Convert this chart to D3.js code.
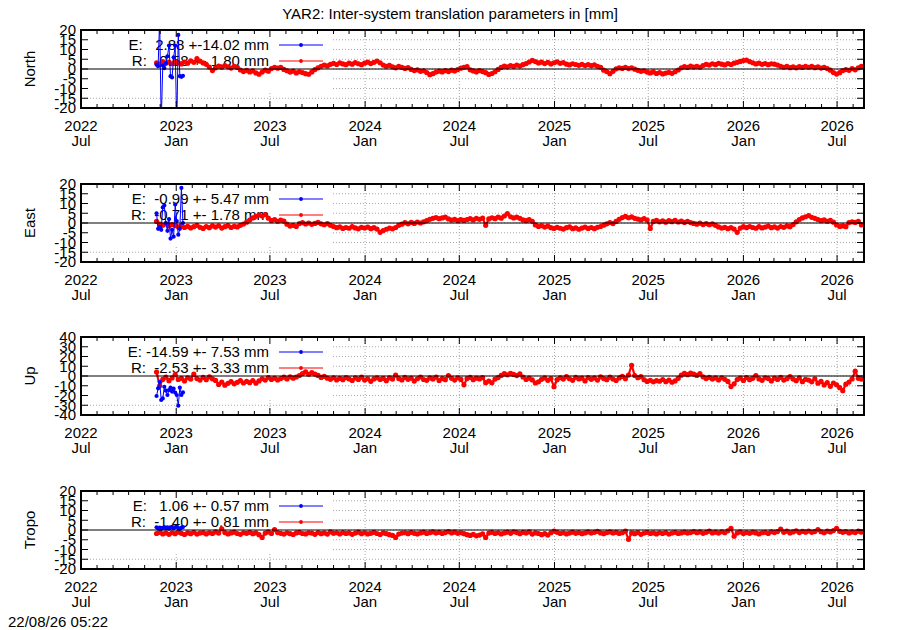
<!DOCTYPE html>
<html><head><meta charset="utf-8">
<script src="https://cdn.jsdelivr.net/npm/d3@7"></script>
<style>body{margin:0;background:#fff}svg{display:block;font-family:"Liberation Sans",Arial,Helvetica,sans-serif}</style>
</head><body><svg id="c" width="900" height="630"></svg>
<script>
// ---------- data ----------
const components = ["North", "East", "Up", "Tropo"];
const yLimits = [20, 20, 40, 20];
const yTickSteps = [5, 5, 10, 5];
const xTickYears = ["2022","2023","2023","2024","2024","2025","2025","2026","2026"];
const meanE = [2.88, -0.99, -14.59, 1.06];
const sdE   = [14.02, 5.47, 7.53, 0.57];
const meanR = [0.58, -0.71, -2.53, -1.40];
const sdR   = [1.80, 1.78, 3.33, 0.81];
const seriesStartR = "2022-11-24", stepDaysR = 6;   // R series sampled every 6 days
const seriesStartE = "2022-11-24", stepDaysE = 3;   // E series every 3 days

const redNorth = [
 3.2,2.5,3.8,2.9,3.5,2.7,3.9,3.1,2.6,3.6,
 3.0,4.2,3.4,5.3,4.0,3.1,2.4,1.0,-0.8,0.6,
 1.5,0.9,1.8,1.1,0.5,1.4,0.8,-0.5,-1.3,-0.7,
 -1.5,-1.0,-2.0,-2.7,-1.6,-0.6,-1.1,0.2,0.9,0.4,
 0.8,-0.2,-0.9,-1.6,-1.1,-2.0,-1.4,-1.8,-2.4,-2.7,
 -1.5,-0.3,0.6,1.4,2.0,1.6,2.4,2.9,2.3,3.1,
 2.6,2.2,3.0,2.5,3.3,2.7,2.2,3.0,3.5,2.8,
 3.4,4.1,3.2,2.0,1.4,1.9,1.1,0.6,1.3,0.8,
 0.3,0.7,-0.2,-0.8,-0.4,-1.2,-0.9,-1.8,-2.9,-2.4,
 -1.6,-1.1,-1.5,-0.8,-1.3,-0.6,-1.0,-0.3,0.4,0.9,
 1.2,-0.4,-1.0,-1.5,-0.8,-1.3,-1.9,-2.8,-2.3,-1.4,
 -0.2,0.8,1.5,1.1,1.8,1.3,2.0,1.5,2.2,2.8,
 3.6,4.4,3.8,3.1,3.5,2.8,3.4,2.6,3.2,3.7,
 2.9,3.3,2.5,2.1,2.7,2.3,1.9,2.4,1.8,2.2,
 1.7,2.1,1.4,0.9,-0.6,-1.3,-2.4,-1.2,0.1,0.6,
 0.3,0.8,0.2,0.6,-0.1,-0.7,-1.2,-0.9,-1.6,-2.0,
 -1.5,-2.3,-1.8,-2.5,-2.1,-1.7,-2.2,-1.4,-0.5,0.6,
 1.2,0.8,1.5,1.0,1.4,0.9,1.8,2.4,2.0,2.7,
 2.2,2.9,2.5,2.1,2.8,2.3,3.0,3.4,3.9,4.3,
 4.6,3.8,3.2,2.6,3.0,2.4,2.8,2.2,2.7,2.5,
 2.0,1.4,0.9,1.3,0.7,1.1,0.6,1.2,0.8,1.4,
 0.9,1.3,0.7,1.1,0.5,0.8,0.2,-0.6,-1.8,-2.6,
 -1.9,-0.8,-0.3,-0.7,0.2,-0.4,0.6,1.4];

const redEast = [
 0.8,-0.6,-1.2,-0.4,-1.5,-0.8,-1.3,-2.0,-1.4,-2.3,
 -1.7,-2.5,-1.9,-1.2,-2.2,-2.8,-1.8,-2.4,-1.5,-2.1,
 -1.4,-2.6,-1.9,-1.3,-2.3,-1.7,-2.0,-1.2,-0.5,0.4,
 1.5,2.6,3.4,4.1,3.6,4.3,2.5,1.2,1.8,0.9,
 1.5,1.0,-0.6,-1.6,-1.2,-1.8,-0.3,0.2,-0.5,0.0,
 -0.7,-0.2,0.3,-0.4,-0.9,-0.3,-1.2,-1.8,-2.4,-2.0,
 -2.8,-2.3,-2.7,-1.9,-2.5,-3.0,-2.2,-2.6,-2.1,-2.9,
 -2.4,-3.1,-4.8,-3.9,-3.2,-2.6,-3.0,-2.3,-1.2,-0.6,
 0.2,-0.4,0.3,-0.2,0.5,0.0,0.6,1.2,1.9,2.4,
 2.8,2.2,2.6,3.0,2.1,1.5,1.9,1.2,1.7,1.3,
 1.8,2.2,1.6,2.4,1.9,2.5,-1.2,2.1,2.7,2.2,
 3.0,2.5,3.6,4.8,3.2,2.6,3.0,2.4,1.6,1.2,
 1.7,0.9,-1.0,-1.8,-1.4,-2.1,-1.6,-2.4,-2.8,-2.2,
 -2.7,-3.1,-2.4,-2.0,-2.9,-2.5,-3.2,-2.6,-2.1,-2.8,
 -2.3,-2.9,-2.2,-1.8,-1.1,-0.4,0.2,-0.3,0.8,1.9,
 2.8,3.4,2.7,3.1,2.4,2.0,1.6,2.2,1.5,-2.8,
 0.8,1.3,0.6,1.1,0.4,1.2,0.7,1.4,0.5,1.0,
 0.3,0.9,0.2,-0.2,-0.6,-0.1,-0.8,-0.3,-0.9,-0.4,
 -1.2,-2.0,-2.6,-2.2,-2.9,-2.4,-3.1,-4.8,-2.6,-1.9,
 -2.4,-1.8,-2.3,-2.7,-1.9,-2.5,-2.1,-1.6,-2.4,-2.0,
 -2.6,-1.8,-2.2,-1.5,-1.9,-0.8,0.6,1.8,2.6,3.2,
 3.8,2.9,2.4,1.8,1.2,1.6,0.9,1.3,0.4,-1.0,
 -1.8,-1.5,-1.9,0.2,0.6,0.3,0.8,-1.0];

const redUp = [
 4.0,-10.0,-3.5,-1.2,-4.8,-2.0,1.5,-3.6,-2.4,-5.0,
 -1.8,-3.2,2.0,-2.6,-4.2,-1.5,-3.8,-0.8,-2.9,-4.5,
 -8.6,-6.2,-9.4,-7.5,-5.8,-8.0,-6.5,-4.8,-7.2,-5.5,
 -6.8,-4.6,-7.4,-5.0,-2.8,-4.2,-1.6,-3.5,-2.2,-4.0,
 -2.6,-1.2,-3.0,-0.8,-2.2,-1.0,0.5,2.5,4.2,1.8,
 3.5,2.0,0.6,-1.5,-0.4,-2.2,-3.4,-1.8,-4.0,-2.5,
 -3.8,-1.6,-3.0,-4.6,-2.0,-3.5,-1.2,-4.2,-2.8,-5.5,
 -3.0,-1.8,-3.6,-2.4,-4.8,-2.0,-3.2,0.8,-2.6,-4.0,
 -1.5,-3.4,-2.2,-5.2,-2.8,-1.0,-3.6,-4.4,-2.0,-3.2,
 -1.2,-4.6,-2.6,-3.8,0.5,-2.4,-4.2,-1.8,-3.5,-9.0,
 -2.6,-1.4,-3.8,-2.2,-3.0,-1.6,-6.8,-5.2,-7.0,-3.2,
 -1.6,0.6,2.4,1.2,2.8,1.6,0.4,2.2,-1.0,-3.6,
 -2.2,-4.0,-7.2,-6.0,-3.4,-2.0,-4.4,-2.6,-11.0,-3.8,
 -1.8,-3.2,-0.6,-2.8,-4.4,-1.4,-3.0,-2.2,-5.0,-1.6,
 -3.4,-2.0,-4.2,-0.8,-2.6,-3.8,-1.2,-3.2,-4.6,-2.0,
 -0.4,-2.8,1.0,11.0,0.5,-1.8,-0.6,-3.8,-5.6,-4.4,
 -6.0,-4.8,-5.4,-3.6,-5.8,-4.2,-6.4,-5.0,-2.4,0.8,
 2.6,1.4,3.0,2.0,0.6,2.4,-0.8,-2.6,-1.4,-3.2,
 -2.0,-4.0,-1.8,-3.4,-5.6,-10.8,-8.0,-3.6,-2.2,-4.6,
 -1.6,-3.8,-2.4,0.4,-3.0,-4.4,-1.8,-2.6,-5.0,-2.2,
 -3.6,-1.4,-4.2,-2.8,-0.6,-3.2,-4.8,-2.0,-5.8,-3.4,
 -4.2,-6.0,-2.8,-7.4,-5.6,-9.2,-6.8,-10.6,-7.2,-9.0,
 -12.0,-15.0,-8.4,-6.2,-3.0,5.0,-2.4,-3.2];

const redTropo = [
 -1.8,-1.2,-2.0,-1.5,-2.2,-1.4,-1.9,-1.1,-1.7,-2.3,
 -1.5,-1.9,-1.2,-2.1,-1.6,-1.3,-2.0,-1.4,-1.8,-1.0,
 -1.6,0.6,-1.3,-2.0,-1.5,-1.1,-1.8,-2.2,-1.4,-1.7,
 -1.2,-1.9,-1.5,-2.4,-3.8,-1.6,-1.0,-1.8,0.2,-1.3,
 -1.7,-2.1,-1.4,-1.9,-2.3,-1.5,-1.2,-1.8,-2.0,-1.4,
 -1.6,-2.2,-1.3,-1.9,-1.5,-2.1,-1.0,-1.7,-1.4,-2.0,
 -1.3,-1.8,-1.5,-2.2,-1.6,-1.1,-1.9,-1.4,-2.0,-1.7,
 -1.2,-1.8,-2.3,-1.5,-1.9,-2.4,-2.8,-3.8,-2.1,-1.6,
 -1.4,-1.9,-1.2,-1.7,-2.0,-1.5,-1.1,-1.8,-1.4,-1.0,
 -1.6,-1.2,-1.8,-1.3,-0.8,-1.5,-1.1,-1.7,-1.4,-1.9,
 -2.4,-2.8,-2.2,-3.0,-2.6,-2.0,-3.8,-1.6,-1.2,-1.8,
 -1.4,-2.0,-1.5,-1.1,-1.7,-0.9,-1.3,-1.9,-1.2,-1.6,
 -1.0,-2.1,-1.5,-1.8,-2.4,-1.9,-2.6,-1.4,-0.6,-1.2,
 -1.8,-1.4,-2.0,-1.6,-1.1,-1.7,-1.3,-1.9,-1.5,-1.0,
 -1.6,-1.2,-0.7,-1.5,-1.9,-1.3,-1.0,-1.6,-1.2,-1.8,
 -1.4,-0.6,-4.8,-1.5,-1.9,-1.3,-2.2,-1.6,-1.2,-1.8,
 -1.5,-2.0,-1.4,-1.8,-1.3,-2.1,-1.6,-1.2,-1.8,-1.5,
 -1.1,-1.6,-1.3,-0.8,-1.4,-1.0,-1.7,-1.2,-0.6,-1.5,
 -1.1,-1.6,-0.9,-1.4,-0.4,0.8,-3.2,-1.5,-1.0,-1.8,
 -1.3,-1.7,-1.1,-1.5,-2.0,-1.4,-1.2,-1.8,-0.9,-1.3,
 -0.8,0.4,-1.2,-0.6,-1.5,-1.0,-0.4,-1.3,-0.7,-1.1,
 -0.5,-1.2,-0.8,0.2,-0.9,-1.4,-0.6,-1.0,-0.3,0.9,
 -0.7,-1.2,-0.8,-1.5,-1.0,-1.3,-0.6,-1.1];

const expNorth = [2.2,1.4,26.0,-28.0,1.8,0.5,3.0,6.5,12.0,-3.7,-4.3,6.0,12.0,-30.0,17.5,-3.7,-4.0,-3.5];
const expEast  = [5.0,-3.0,-2.0,-3.5,8.0,9.0,0.0,-4.0,2.0,-8.0,-3.5,-7.0,9.5,1.0,-6.0,-3.0,18.0,0.0];
const expUp    = [-20.5,-12.6,-6.0,-24.6,-23.0,-11.0,-15.0,-19.5,-14.4,-12.0,-16.0,-13.0,-17.0,-19.5,-30.4,-12.0,-19.5,-16.8];
const expTropo = [1.4,0.8,1.2,0.6,1.0,1.5,0.9,1.3,0.7,1.1,1.6,0.9,1.4,1.8,1.0,0.6,1.2,1.5];

const redSeries = [redNorth, redEast, redUp, redTropo];
const expSeries = [expNorth, expEast, expUp, expTropo];
const titleText = "YAR2: Inter-system translation parameters in [mm]";
const stampText = "22/08/26 05:22";

// ---------- drawing ----------
const svg = d3.select("#c");
const L = 81, R = 864, PH = 78;
const tops = [30, 184, 337, 491];
const FS = 15;
const dayMs = 864e5;
const parse = d3.utcParse("%Y-%m-%d");
const x = d3.scaleUtc().domain([Date.UTC(2022,6,1), Date.UTC(2026,7,22)]).range([L, R]);
const rDates = redNorth.map((_, i) => new Date(+parse(seriesStartR) + i * stepDaysR * dayMs));
const eDates = expNorth.map((_, i) => new Date(+parse(seriesStartE) + i * stepDaysE * dayMs));
const majorTicks = d3.utcMonth.every(6).range(x.domain()[0], x.domain()[1]);
const minorTicks = d3.utcMonth.every(1).range(x.domain()[0], x.domain()[1]).filter(d => d.getUTCMonth() % 6 !== 0);
const fmtMon = d3.utcFormat("%b");

svg.append("rect").attr("width", 900).attr("height", 630).attr("fill", "#fff");
svg.append("text").attr("x", 450).attr("y", 19).attr("text-anchor", "middle")
  .attr("font-size", FS).text(titleText);
svg.append("text").attr("x", 8).attr("y", 627).attr("font-size", FS).text(stampText);

function legendText(lab, m, s) {
  return lab + ": " + m.toFixed(2).padStart(6) + " +-" + s.toFixed(2).padStart(5) + " mm";
}

components.forEach((name, k) => {
  const top = tops[k], bot = top + PH, lim = yLimits[k];
  const y = d3.scaleLinear().domain([-lim, lim]).range([bot, top]);
  const yt = d3.range(-lim, lim + 0.001, yTickSteps[k]);
  const g = svg.append("g");

  // grid
  g.selectAll(null).data(yt.filter(v => v > -lim && v < lim)).join("line")
    .attr("x1", L).attr("x2", R).attr("y1", d => y(d)).attr("y2", d => y(d))
    .attr("stroke", "#a8a8a8").attr("stroke-width", 1).attr("stroke-dasharray", "1,2");
  g.selectAll(null).data(majorTicks.filter(d => x(d) > L + 1)).join("line")
    .attr("x1", d => x(d)).attr("x2", d => x(d)).attr("y1", top).attr("y2", bot)
    .attr("stroke", "#a8a8a8").attr("stroke-width", 1).attr("stroke-dasharray", "1,2");

  // opaque key box + key text
  g.append("rect").attr("x", L + 1).attr("y", top + 1).attr("width", 332 - L - 1).attr("height", 62).attr("fill", "#fff");
  const rows = [["E", meanE[k], sdE[k]], ["R", meanR[k], sdR[k]]];
  rows.forEach((r, j) => {
    g.append("text").attr("x", 269).attr("y", top + 15 + 16 * j).attr("dy", "0.36em")
      .attr("text-anchor", "end").attr("font-size", FS).style("white-space", "pre")
      .text(legendText(r[0], r[1], r[2]));
  });

  // data
  const clipId = "clip" + k;
  g.append("clipPath").attr("id", clipId).append("rect").attr("x", L).attr("y", top).attr("width", R - L).attr("height", PH);
  const dg = g.append("g").attr("clip-path", `url(#${clipId})`);
  const line = d3.line().x(d => x(d[0])).y(d => y(d[1]));
  const red = rDates.map((d, i) => [d, redSeries[k][i]]);
  const blue = eDates.map((d, i) => [d, expSeries[k][i]]);
  dg.append("path").attr("d", line(red)).attr("fill", "none").attr("stroke", "#ff0000").attr("stroke-width", 2.2).attr("stroke-linejoin", "round");
  dg.selectAll(null).data(red).join("circle").attr("cx", d => x(d[0])).attr("cy", d => y(d[1])).attr("r", 2.6).attr("fill", "#ff0000");
  dg.append("path").attr("d", line(blue)).attr("fill", "none").attr("stroke", "#0000ff").attr("stroke-width", 1);
  dg.selectAll(null).data(blue).join("circle").attr("cx", d => x(d[0])).attr("cy", d => y(d[1])).attr("r", 2.1).attr("fill", "#0000ff");

  // zero line
  g.append("line").attr("x1", L).attr("x2", R).attr("y1", y(0)).attr("y2", y(0)).attr("stroke", "#000").attr("stroke-width", 1.2);

  // key samples
  ["#0000ff", "#ff0000"].forEach((c, j) => {
    const yy = top + 15 + 16 * j;
    g.append("line").attr("x1", 279).attr("x2", 323).attr("y1", yy).attr("y2", yy).attr("stroke", c).attr("stroke-width", 1.2);
    g.append("circle").attr("cx", 301).attr("cy", yy).attr("r", 1.9).attr("fill", c);
  });

  // ticks
  g.selectAll(null).data(yt).join("path")
    .attr("d", d => `M${L},${y(d)}h7M${R},${y(d)}h-7`).attr("stroke", "#000").attr("stroke-width", 1);
  g.selectAll(null).data(majorTicks).join("path")
    .attr("d", d => `M${x(d)},${bot}v-7M${x(d)},${top}v7`).attr("stroke", "#000").attr("stroke-width", 1);
  g.selectAll(null).data(minorTicks).join("path")
    .attr("d", d => `M${x(d)},${bot}v-4M${x(d)},${top}v4`).attr("stroke", "#000").attr("stroke-width", 1);

  // border
  g.append("rect").attr("x", L).attr("y", top).attr("width", R - L).attr("height", PH)
    .attr("fill", "none").attr("stroke", "#000").attr("stroke-width", 2);

  // tick labels
  g.selectAll(null).data(yt).join("text")
    .attr("x", 76).attr("y", d => y(d)).attr("dy", "0.36em").attr("text-anchor", "end")
    .attr("font-size", FS).text(d => d);
  majorTicks.forEach((d, i) => {
    const t = g.append("text").attr("x", x(d)).attr("text-anchor", "middle").attr("font-size", FS);
    t.append("tspan").attr("x", x(d)).attr("y", bot + 23).text(xTickYears[i]);
    t.append("tspan").attr("x", x(d)).attr("y", bot + 37.5).text(fmtMon(d));
  });

  // axis label
  g.append("text").attr("transform", `translate(35,${top + PH / 2}) rotate(-90)`)
    .attr("text-anchor", "middle").attr("font-size", FS).text(name);
});
</script>
</body></html>
